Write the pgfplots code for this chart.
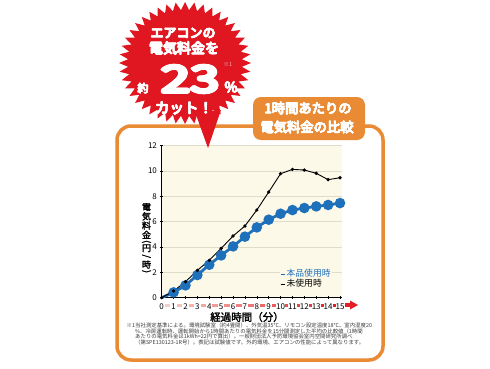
\documentclass[border=0pt]{standalone}
\usepackage{fontspec}
\usepackage{graphicx}
\usepackage{pgfplots}
\pgfplotsset{compat=1.18}
\setmainfont{Noto Sans CJK JP}[AutoFakeBold=2]
\definecolor{burst}{RGB}{224,22,32}
\definecolor{frameor}{RGB}{233,138,52}
\definecolor{bgbeige}{RGB}{252,249,233}
\definecolor{gridc}{RGB}{224,220,202}
\definecolor{blueline}{RGB}{30,112,186}
\definecolor{arrowred}{RGB}{228,30,38}
\definecolor{barpink}{RGB}{246,205,196}
\definecolor{notec}{RGB}{60,60,60}
\definecolor{notepink}{RGB}{245,185,185}
\XeTeXlinebreaklocale "ja"
\XeTeXlinebreakskip=0pt plus 1pt
% fake heavy text by overprinting shifted copies
\newcommand\fb[2][0.4pt]{\leavevmode\rlap{\kern-#1#2}\rlap{\kern#1#2}\rlap{\raisebox{#1}{#2}}\rlap{\raisebox{-#1}{#2}}#2}
\newcommand\fbb[3]{\leavevmode\rlap{\kern-#1#3}\rlap{\kern#1#3}\rlap{\raisebox{#1}{#3}}\rlap{\raisebox{-#1}{#3}}%
\rlap{\kern-#2\raisebox{#2}{#3}}\rlap{\kern#2\raisebox{#2}{#3}}\rlap{\kern-#2\raisebox{-#2}{#3}}\rlap{\kern#2\raisebox{-#2}{#3}}#3}
\begin{document}
\begin{tikzpicture}
\begin{scope}[x=1pt,y=-1pt,yshift=368pt]
\useasboundingbox (0,0) rectangle (490,368);
\fill[white] (0,0) rectangle (490,368);
\draw[frameor, line width=3.5pt, rounded corners=14pt] (117,126) rectangle (383,360);
\end{scope}

\begin{axis}[
  at={(161.7pt,70.3pt)}, anchor=south west,
  scale only axis, width=180.1pt, height=152pt,
  xmin=0, xmax=15.15, ymin=0, ymax=12,
  enlargelimits=false, clip=false,
  axis lines=left, axis line style={-, black, line width=0.8pt},
  axis background/.style={fill=bgbeige},
  xtick={0,...,15}, ytick={0,2,...,12},
  tick style={black, line width=0.5pt}, major tick length=2.5pt, tick align=center,
  ymajorgrids, grid style={gridc, line width=0.6pt},
  /pgf/number format/assume math mode=true,
  tick label style={font=\fontsize{8}{8}\selectfont},
  xticklabel style={anchor=center, yshift=-7.3pt},
  legend style={draw=none, fill=bgbeige, at={(axis cs:9.92,2.25)}, anchor=north west,
    inner sep=0pt, row sep=0pt, font=\fontsize{8.8}{9}\selectfont,
    nodes={inner sep=1pt, text height=6.5pt, text depth=1.5pt}},
  legend cell align=left,
  legend image code/.code={\draw[#1, mark=none, line width=1.8pt] (0pt,0pt) -- (4pt,0pt);},
]
\addplot[blueline, line width=2.8pt, mark=*, mark size=3.8pt, mark indices={2,...,16}] coordinates {
(0,0) (1,0.42) (2,0.97) (3,1.79) (4,2.60) (5,3.34) (6,4.05) (7,4.82) (8,5.55)
(9,6.16) (10,6.63) (11,6.92) (12,7.08) (13,7.21) (14,7.32) (15,7.47)};
\addlegendentry{\textcolor{blueline}{本品使用時}}
\addplot[black, line width=0.9pt, mark=*, mark size=1.2pt] coordinates {
(0,0) (1,0.53) (2,1.26) (3,2.16) (4,2.95) (5,3.89) (6,4.87) (7,5.66) (8,6.92)
(9,8.34) (10,9.79) (11,10.13) (12,10.08) (13,9.82) (14,9.32) (15,9.47)};
\addlegendentry{未使用時}
\end{axis}

\begin{scope}[x=1pt,y=-1pt,yshift=368pt]
% bars between x tick labels
\foreach \k in {0,...,14} {
  \pgfmathsetmacro\hl{ifthenelse(\k<10,2.3,3.6)}
  \pgfmathsetmacro\hr{ifthenelse(\k<9,2.3,3.6)}
  \pgfmathsetmacro\xa{161.7+11.887*\k+\hl+0.9}
  \pgfmathsetmacro\xb{161.7+11.887*(\k+1)-\hr-0.9}
  \pgfmathsetmacro\t{\k/14*100}
  \draw[line width=3pt, color=arrowred!\t!barpink] (\xa,305) -- (\xb,305);
}
\fill[arrowred] (345,303.2) rectangle (351,306.8);
\fill[arrowred] (350,300.5) -- (358,305) -- (350,309.5) -- cycle;
% x label
\node[font=\fontsize{10.5}{10.5}\selectfont\bfseries] at (247,317) {経過時間（分）};
% y label
\begin{scope}[every node/.style={font=\fontsize{9}{9}\selectfont\bfseries, inner sep=0}]
\node at (146.5,207) {電};
\node at (146.5,216.3) {気};
\node at (146.5,225.6) {料};
\node at (146.5,234.8) {金};
\node at (146.5,241.6) {\rotatebox{-90}{(}};
\node at (146.5,248.3) {円};
\node at (146.5,256.3) {\rotatebox{-90}{/}};
\node at (146.5,264.5) {時};
\node at (146.5,271.6) {\rotatebox{-90}{)}};
\end{scope}
% starburst
\fill[burst] (185+66,63) \foreach \k in {0,...,43} {
  -- ({185+66*cos(\k*360/44)},{63+61*sin(\k*360/44)})
  -- ({185+57*cos((\k+0.5)*360/44)},{63+53*sin((\k+0.5)*360/44)}) } -- cycle;
\fill[burst] (195,112) -- (208,148) -- (221,110) -- cycle;
\node[white, font=\fontsize{13}{13}\selectfont\bfseries] at (183,33) {\fb{エアコンの}};
\node[white, font=\fontsize{14}{14}\selectfont\bfseries] at (184,48) {\fb{電気料金を}};
\node[white, inner sep=0] at (190,79) {\scalebox{1.42}[1]{\fontsize{37}{37}\selectfont\bfseries\fbb{1.3pt}{0.9pt}{23}}};
\node[white, font=\fontsize{11}{11}\selectfont\bfseries] at (143,88) {\fb[0.3pt]{約}};
\node[white, font=\fontsize{14}{14}\selectfont\bfseries] at (231,87) {\fb{\%}};
\node[notepink, font=\fontsize{5.5}{5.5}\selectfont] at (228,64) {※1};
\node[white, font=\fontsize{14.5}{14.5}\selectfont\bfseries] at (184,108) {\fb{カット！}};
% label box
\fill[frameor, rounded corners=8pt] (253,97) rectangle (365,140);
\node[white, font=\fontsize{13.3}{13.3}\selectfont\bfseries] at (308,108) {\fb[0.3pt]{1時間あたりの}};
\node[white, font=\fontsize{13.3}{13.3}\selectfont\bfseries] at (307,127) {\fb[0.3pt]{電気料金の比較}};
% footnote
\begin{scope}[every node/.style={font=\fontsize{5.4}{5.4}\selectfont, notec, inner sep=0, anchor=west}]
\node at (126.5,325.3) {※1};
\node at (135,325.3) {\hbox to 240pt{当社測定基準による。環境試験室（約4畳間）、外気温35℃、リモコン設定温度18℃、室内湿度20}};
\node at (135,331) {\hbox to 240pt{\%、冷房運転時、運転開始から1時間あたりの電気料金を15分間測定した平均の比較値（1時間}};
\node at (135,336.7) {\hbox to 238pt{あたりの電気料金は1kWh=22円で算出）。一般財団法人予防環境協会室内空間研究所調べ}};
\node at (135,342.4) {（第SPE130123-1R号）。表記は試験値です。外的環境、エアコンの性能によって異なります。};
\end{scope}
\end{scope}
\end{tikzpicture}
\end{document}
